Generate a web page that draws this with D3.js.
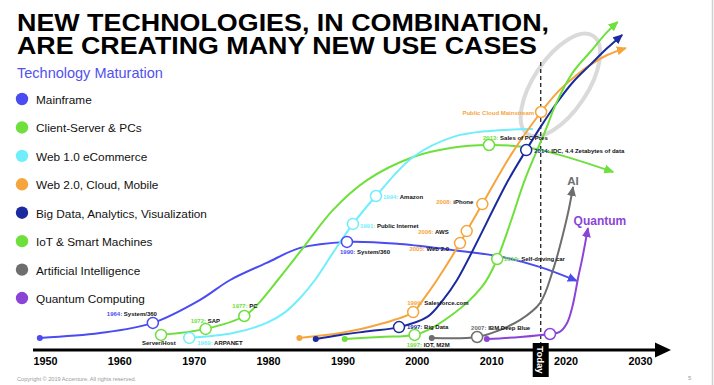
<!DOCTYPE html>
<html><head><meta charset="utf-8">
<script src="https://cdn.jsdelivr.net/npm/d3@7"></script>
<style>body{margin:0;background:#fff}svg{display:block}</style>
</head><body>
<svg id="c" width="714" height="385"></svg>
<script>
// ---------------- DATA ----------------
const titleLines = ["NEW TECHNOLOGIES, IN COMBINATION,", "ARE CREATING MANY NEW USE CASES"];
const subtitle = "Technology Maturation";
const axisYears = [1950, 1960, 1970, 1980, 1990, 2000, 2010, 2020, 2030];
const todayYear = 2016.65;
const todayLabel = "Today";

const seriesNames = ["Mainframe", "Client-Server & PCs", "Web 1.0 eCommerce", "Web 2.0, Cloud, Mobile",
  "Big Data, Analytics, Visualization", "IoT & Smart Machines", "Artificial Intelligence", "Quantum Computing"];

const mainframeYears  = [1949.3, 1957.4, 1964.5, 1970.8, 1974.9, 1979.8, 1984.3, 1990.6, 1997.7, 2005.8, 2010.8, 2016.6, 2021.5];
const mainframeValues = [0.7, 2.3, 5.7, 13.3, 20, 25.7, 30.7, 32.7, 32, 29.7, 28, 24.3, 19.7];

const clientServerYears  = [1965.6, 1971.6, 1976.8, 1978.9, 1981.3, 1984.7, 1988.7, 1993.3, 1999.5, 2004.5, 2009.7, 2014.5, 2019.2, 2026.4];
const clientServerValues = [1.7, 3.7, 8, 12.7, 20, 30.7, 43.3, 53.3, 61, 64, 65, 64.3, 61.7, 56];

const web1Years  = [1969.4, 1975.3, 1979.8, 1982.3, 1984.3, 1986.3, 1988.7, 1991.4, 1994.5, 1999.5, 2004.9, 2009.8, 2015.6];
const web1Values = [0.7, 2.3, 5.7, 9.3, 14, 20, 29, 38.7, 48, 61, 67.7, 69.7, 70.3];

const web2Years  = [1984.2, 1989.7, 1994.6, 1999.5, 2000.8, 2002.7, 2005.8, 2006.7, 2008.8, 2012.8, 2016.7, 2018.8, 2021.0, 2023.3, 2025.6, 2028.1];
const web2Values = [0.7, 2.3, 5, 9.3, 13.3, 20, 32.3, 36.3, 45.3, 62.3, 76, 82.3, 87.3, 91.7, 95, 97.3];

const bigDataYears  = [1986.4, 1989.7, 1993.7, 1997.6, 2001.4, 2003.5, 2005.4, 2012.3, 2014.7, 2016.55, 2018.8, 2021.0, 2023.3, 2025.6, 2027.6];
const bigDataValues = [0.3, 1.7, 3, 4.3, 7.7, 13.3, 20, 53.3, 63.3, 70.7, 79, 86, 91.7, 97.3, 101.7];

const iotYears  = [1990.3, 1995.0, 1999.7, 2001.8, 2004.5, 2007.1, 2009.2, 2010.8, 2012.7, 2014.5, 2017.2, 2018.8, 2021.0, 2023.3, 2025.6, 2027.0];
const iotValues = [0.3, 1, 1.7, 3.7, 8, 13.3, 19.3, 27, 40, 53.3, 69.3, 79.3, 89.3, 96, 102.7, 106];

const aiYears  = [2002.0, 2008.1, 2010.8, 2013.9, 2016.55, 2018.3, 2020.2, 2021.0];
const aiValues = [0.7, 1, 3, 6.7, 12.3, 23.3, 41, 51];

const quantumYears  = [2009.4, 2013.9, 2017.9, 2019.2, 2020.2, 2020.9, 2021.3, 2021.7, 2022.2, 2023.0];
const quantumValues = [0.3, 1, 2, 2.7, 5.7, 11, 15.7, 21, 26.7, 37.3];

const seriesHasArrow    = [true, true, false, true, true, true, true, true];
const seriesHasStartDot = [true, false, false, true, true, true, true, true];
const endLabels = ["", "", "", "", "", "", "AI", "Quantum"];

// milestones
const milestoneSeries = [0, 0, 1, 1, 1, 1, 2, 2, 2, 3, 3, 3, 3, 3, 4, 4, 5, 5, 6, 7];
const milestoneYears  = [1964.5, 1990.6, 1965.6, 1971.6, 1976.8, 2009.7, 1969.4, 1991.4, 1994.5, 1999.5, 2005.8, 2006.7, 2008.8, 2016.7, 1997.6, 2014.7, 1999.7, 2010.8, 2008.1, 2017.9];
const milestoneValues = [5.7, 32.7, 1.7, 3.7, 8, 65, 0.7, 38.7, 48, 9.3, 32.3, 36.3, 45.3, 76, 4.3, 63.3, 1.7, 27, 1, 2];
const milestoneYearText = ["1964:", "1990:", "", "1972:", "1977:", "2013:", "1969:", "1991:", "1994:", "1999:", "2005:", "2006:", "2008:", "Public Cloud Mainstream", "1997:", "2014:", "1997:", "2010:", "2007:", ""];
const milestoneText = ["System/360", "System/360", "Server/Host", "SAP", "PC", "Sales of PC Pres", "ARPANET", "Public Internet", "Amazon", "Salesforce.com", "Web 2.0", "AWS", "iPhone", "", "Big Data", "IDC, 4.4 Zetabytes of data", "IOT, M2M", "Self-driving car", "IBM Deep Blue", ""];

const copyright = "Copyright © 2019 Accenture. All rights reserved.";
const pageNumber = "5";

// ---------------- STYLE / LAYOUT ----------------
const colors = ["#4b4bf2", "#6ee03c", "#70eefc", "#f5a53c", "#1b2a9e", "#6ee03c", "#6e6e6e", "#8b45d6"];
// [anchor, dx, dy] of each milestone label relative to its circle
const labelLayout = [
  ["start", -46, -9], ["start", -7, 10], ["start", -19, 8], ["start", -15, -8], ["start", -12, -10], ["start", -6, -7],
  ["start", 8, 5], ["start", 7, 2], ["start", 7, 1],
  ["start", -6, -9], ["end", -11, 6], ["end", -18, 1], ["end", -9, -2], ["end", -7, 1],
  ["start", 8, 0], ["start", 8, 1], ["start", -8, 10], ["start", 7, 0], ["start", -6, -9], null
];
const FONT = "'Liberation Sans', Arial, Helvetica, sans-serif";

const seriesYears = [mainframeYears, clientServerYears, web1Years, web2Years, bigDataYears, iotYears, aiYears, quantumYears];
const seriesValues = [mainframeValues, clientServerValues, web1Values, web2Values, bigDataValues, iotValues, aiValues, quantumValues];

// ---------------- DRAW ----------------
const svg = d3.select("#c");
const x = d3.scaleLinear().domain([1950, 2030]).range([45, 640]);
const y = d3.scaleLinear().domain([0, 100]).range([340, 40]);

// right border
svg.append("line").attr("x1", 712.5).attr("x2", 712.5).attr("y1", 0).attr("y2", 385)
  .attr("stroke", "#cfcfcf").attr("stroke-width", 1.5);

// title (one text block, two lines)
const title = svg.append("text").attr("font-family", FONT).attr("font-weight", "bold")
  .attr("font-size", 23.5).attr("fill", "#000");
titleLines.forEach((t, i) => {
  title.append("tspan").attr("x", 17).attr("y", i === 0 ? 30.5 : 53.5)
    .attr("textLength", i === 0 ? 532 : 520).attr("lengthAdjust", "spacingAndGlyphs").text(t);
});
svg.append("text").attr("x", 17).attr("y", 77.5).attr("font-family", FONT).attr("font-size", 14.5)
  .attr("fill", "#5151ee").text(subtitle);

// legend
const leg = svg.append("g");
seriesNames.forEach((n, i) => {
  const cy = 99 + i * 28.43;
  leg.append("circle").attr("cx", 22).attr("cy", cy).attr("r", 6.2).attr("fill", colors[i]);
  leg.append("text").attr("x", 36).attr("y", cy + 5).attr("font-family", FONT).attr("font-size", 11.8)
    .attr("fill", "#111").text(n);
});

// highlight ellipse
const ecx = x(2019.3), ecy = y(85);
svg.append("ellipse").attr("cx", ecx).attr("cy", ecy).attr("rx", 27).attr("ry", 59)
  .attr("transform", `rotate(33.7,${ecx},${ecy})`)
  .attr("fill", "none").attr("stroke", "#dadada").attr("stroke-width", 4);

// today dashed line
svg.append("line").attr("x1", x(todayYear)).attr("x2", x(todayYear)).attr("y1", 62).attr("y2", 343)
  .attr("stroke", "#222").attr("stroke-width", 1.3).attr("stroke-dasharray", "4,3");

// arrow markers
const defs = svg.append("defs");
colors.forEach((c, i) => {
  defs.append("marker").attr("id", "ar" + i).attr("viewBox", "0 0 10 10")
    .attr("refX", 9).attr("refY", 5).attr("markerWidth", 10).attr("markerHeight", 10)
    .attr("markerUnits", "userSpaceOnUse").attr("orient", "auto")
    .append("path").attr("d", "M0,0.5 L10,5 L0,9.5 z").attr("fill", c);
});

const line = d3.line().x(d => x(d[0])).y(d => y(d[1])).curve(d3.curveCatmullRom.alpha(0.5));
const lines = svg.append("g");
seriesYears.forEach((ys, i) => {
  const pts = ys.map((yr, k) => [yr, seriesValues[i][k]]);
  const p = lines.append("path").attr("d", line(pts)).attr("fill", "none")
    .attr("stroke", colors[i]).attr("stroke-width", 2);
  if (seriesHasArrow[i]) p.attr("marker-end", `url(#ar${i})`);
  if (seriesHasStartDot[i]) {
    lines.append("circle").attr("cx", x(pts[0][0])).attr("cy", y(pts[0][1])).attr("r", 3).attr("fill", colors[i]);
  }
  if (endLabels[i]) {
    const last = pts[pts.length - 1];
    lines.append("text").attr("x", x(last[0]) + (i === 7 ? 12 : 0)).attr("y", y(last[1]) - (i === 7 ? 3 : 2.5))
      .attr("text-anchor", "middle").attr("font-family", FONT).attr("font-weight", "bold")
      .attr("font-size", i === 7 ? 12 : 11.5).attr("fill", colors[i]).text(endLabels[i]);
  }
});

// milestones
const ms = svg.append("g");
milestoneYears.forEach((yr, k) => {
  const si = milestoneSeries[k];
  const cx = x(yr), cy = y(milestoneValues[k]);
  ms.append("circle").attr("cx", cx).attr("cy", cy).attr("r", 5.5)
    .attr("fill", "#fff").attr("stroke", colors[si]).attr("stroke-width", 1.5);
  const L = labelLayout[k];
  if (!L) return;
  const t = ms.append("text").attr("x", cx + L[1]).attr("y", cy + L[2] + 2.1)
    .attr("text-anchor", L[0]).attr("font-family", FONT).attr("font-weight", "bold").attr("font-size", 6);
  if (milestoneYearText[k]) t.append("tspan").attr("fill", colors[si]).text(milestoneYearText[k]);
  if (milestoneText[k]) t.append("tspan").attr("fill", "#111").text((milestoneYearText[k] ? " " : "") + milestoneText[k]);
});

// time axis
const axG = svg.append("g").attr("transform", "translate(0,350)");
axG.append("line").attr("x1", 33).attr("x2", 657).attr("y1", 0).attr("y2", 0).attr("stroke", "#000").attr("stroke-width", 3);
axG.append("path").attr("d", "M655,-7.5 L671,0 L655,7.5 Z").attr("fill", "#000");
const axis = d3.axisBottom(x).tickValues(axisYears).tickFormat(d3.format("d")).tickSize(0).tickPadding(7);
const ag = axG.append("g").call(axis);
ag.select(".domain").remove();
ag.selectAll("text").attr("font-family", FONT).attr("font-weight", "bold").attr("font-size", 10.8).attr("fill", "#000");

// today box
const tx = x(todayYear);
svg.append("rect").attr("x", tx - 8).attr("y", 343).attr("width", 16).attr("height", 34).attr("fill", "#000");
svg.append("text").attr("transform", `translate(${tx - 3.5},360) rotate(90)`).attr("text-anchor", "middle")
  .attr("font-family", FONT).attr("font-weight", "bold").attr("font-size", 9.5).attr("fill", "#fff").text(todayLabel);

// footer
svg.append("text").attr("x", 17).attr("y", 381).attr("font-family", FONT).attr("font-size", 5.6)
  .attr("fill", "#9a9a9a").text(copyright);
svg.append("text").attr("x", 688).attr("y", 380).attr("font-family", FONT).attr("font-size", 6)
  .attr("fill", "#9a9a9a").text(pageNumber);
</script>
</body></html>
